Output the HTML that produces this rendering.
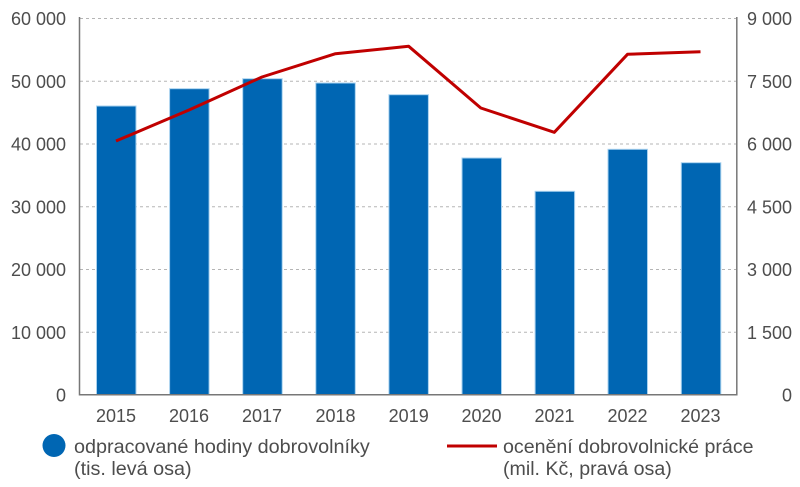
<!DOCTYPE html>
<html><head><meta charset="utf-8"><style>
html,body{margin:0;padding:0;background:#fff;}
svg{display:block;}
text{font-family:"Liberation Sans",sans-serif;fill:#4d4d4d;}
</style></head><body>
<svg width="800" height="487" viewBox="0 0 800 487" xmlns="http://www.w3.org/2000/svg">
<g stroke="#b5b5b5" stroke-width="1" stroke-dasharray="3,3">
<line x1="80" y1="18.5" x2="736" y2="18.5"/>
<line x1="80" y1="81.3" x2="736" y2="81.3"/>
<line x1="80" y1="144" x2="736" y2="144"/>
<line x1="80" y1="206.8" x2="736" y2="206.8"/>
<line x1="80" y1="269.5" x2="736" y2="269.5"/>
<line x1="80" y1="332.3" x2="736" y2="332.3"/>
</g>
<g fill="#0066b3" stroke="#a9d2ef" stroke-width="1">
<rect x="96.5" y="106" width="39.5" height="289"/>
<rect x="169.6" y="88.7" width="39.5" height="306.3"/>
<rect x="242.7" y="78.7" width="39.5" height="316.3"/>
<rect x="315.8" y="83" width="39.5" height="312"/>
<rect x="388.9" y="94.7" width="39.5" height="300.3"/>
<rect x="462" y="158" width="39.5" height="237"/>
<rect x="535.1" y="191.3" width="39.5" height="203.7"/>
<rect x="608" y="149.3" width="39.5" height="245.7"/>
<rect x="681.3" y="162.7" width="39.5" height="232.3"/>
</g>
<line x1="79.5" y1="17" x2="79.5" y2="395.5" stroke="#777" stroke-width="1.5"/>
<line x1="736.8" y1="17" x2="736.8" y2="395.5" stroke="#777" stroke-width="1.5"/>
<line x1="79" y1="394.8" x2="737.5" y2="394.8" stroke="#777" stroke-width="1.5"/>
<polyline fill="none" stroke="#c00000" stroke-width="3" stroke-linejoin="round" points="116,141 189,110 262,77 335.5,53.7 408.7,46.3 480.8,108 554.3,132.3 627.5,54.3 700.5,51.7"/>
<g font-size="18" text-anchor="end">
<text x="66" y="25">60 000</text>
<text x="66" y="88">50 000</text>
<text x="66" y="150.5">40 000</text>
<text x="66" y="213.3">30 000</text>
<text x="66" y="276">20 000</text>
<text x="66" y="338.8">10 000</text>
<text x="66" y="401.5">0</text>
<text x="792" y="25">9 000</text>
<text x="792" y="88">7 500</text>
<text x="792" y="150.5">6 000</text>
<text x="792" y="213.3">4 500</text>
<text x="792" y="276">3 000</text>
<text x="792" y="338.8">1 500</text>
<text x="792" y="401.5">0</text>
</g>
<g font-size="18" text-anchor="middle">
<text x="116" y="422">2015</text>
<text x="189" y="422">2016</text>
<text x="262" y="422">2017</text>
<text x="335.5" y="422">2018</text>
<text x="408.7" y="422">2019</text>
<text x="481.5" y="422">2020</text>
<text x="554.5" y="422">2021</text>
<text x="627.5" y="422">2022</text>
<text x="700.5" y="422">2023</text>
</g>
<circle cx="54" cy="445.5" r="11.5" fill="#0066b3"/>
<text x="74" y="453" font-size="19.8">odpracované hodiny dobrovolníky</text>
<text x="74" y="475" font-size="19.8">(tis. levá osa)</text>
<line x1="447" y1="446" x2="497" y2="446" stroke="#c00000" stroke-width="3"/>
<text x="503" y="453" font-size="19.6">ocenění dobrovolnické práce</text>
<text x="503" y="475" font-size="19.6">(mil. Kč, pravá osa)</text>
</svg>
</body></html>
